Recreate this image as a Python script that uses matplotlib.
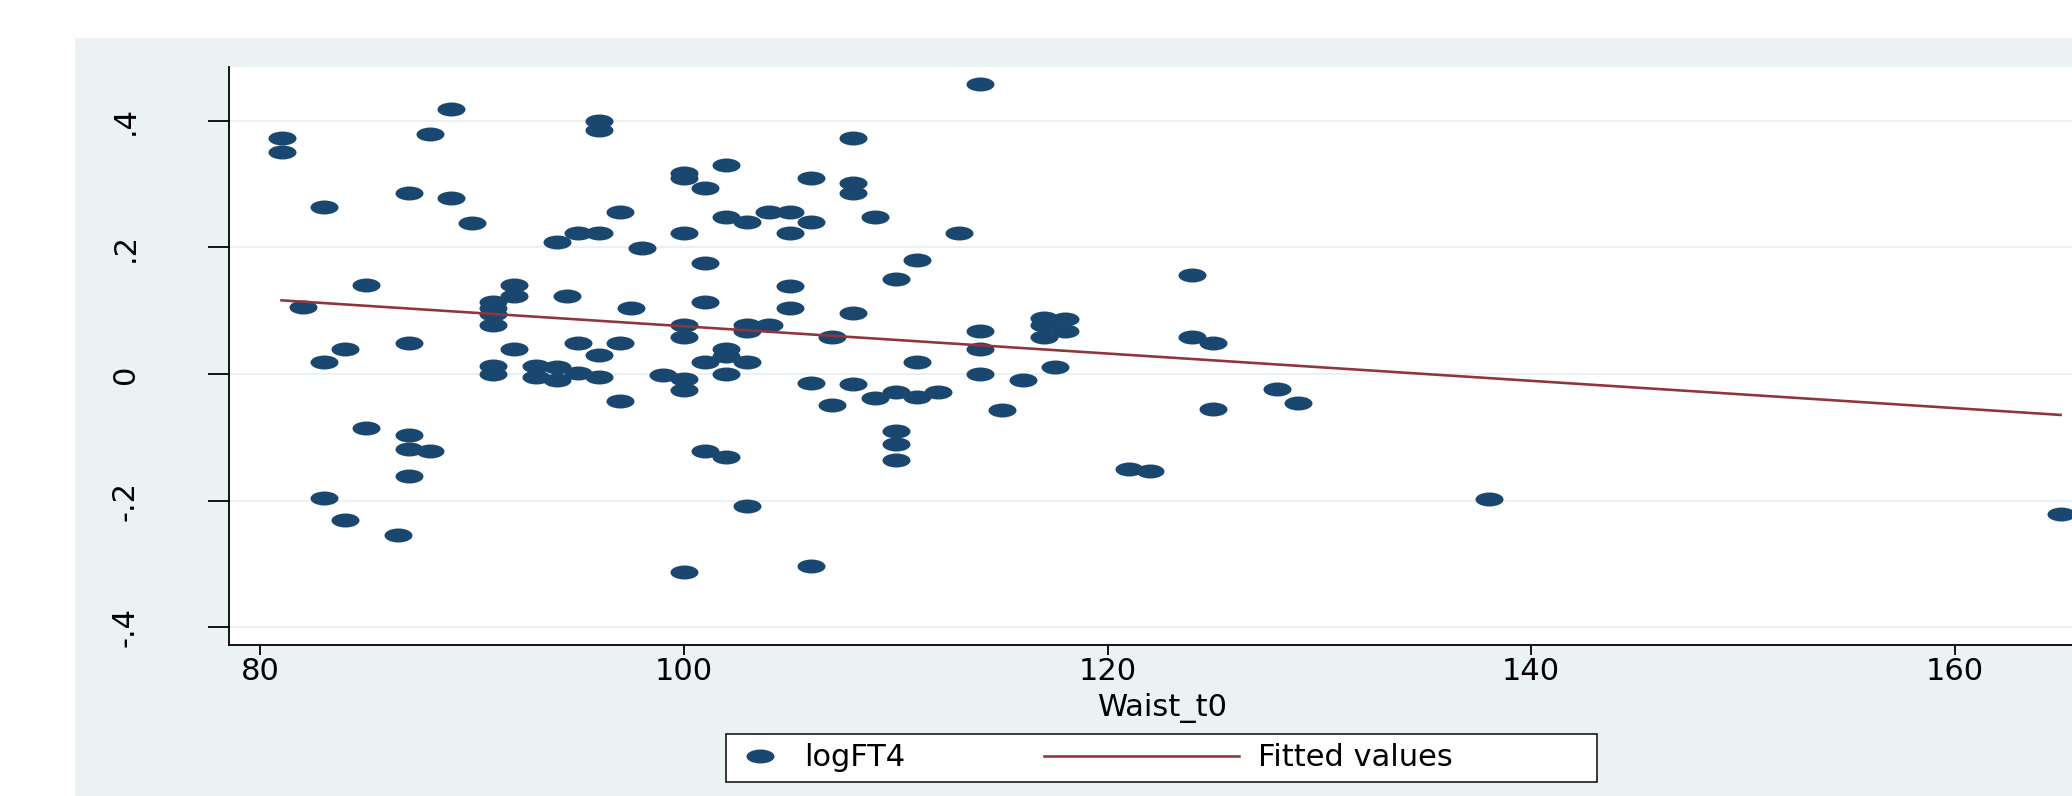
import matplotlib
matplotlib.use("Agg")
import matplotlib.pyplot as plt
from matplotlib.markers import MarkerStyle
from matplotlib.transforms import Affine2D
from matplotlib.patches import Rectangle
from matplotlib.legend_handler import HandlerLine2D

# data (Waist_t0 vs logFT4)
waist = [81, 81, 82, 83, 83, 83, 84, 84, 85, 85, 86.5,
         87, 87, 87, 87, 87, 88, 88, 89, 89, 90,
         91, 91, 91, 91, 91, 91, 92, 92, 92, 93, 93,
         94, 94, 94, 94.5, 95, 95, 95, 96, 96, 96, 96, 96,
         97, 97, 97, 97.5, 98, 99,
         100, 100, 100, 100, 100, 100, 100, 100,
         101, 101, 101, 101, 101, 102, 102, 102, 102, 102, 102,
         103, 103, 103, 103, 103, 104, 104, 105, 105, 105, 105,
         106, 106, 106, 106, 107, 107, 108, 108, 108, 108, 108,
         109, 109, 110, 110, 110, 110, 110, 111, 111, 111, 112, 113,
         114, 114, 114, 114, 115, 116, 117, 117, 117, 117.5, 118, 118,
         121, 122, 124, 124, 125, 125, 128, 129, 138, 165]
logft4 = [0.372, 0.351, 0.106, 0.263, 0.019, -0.195, 0.039, -0.231, 0.140, -0.085, -0.254,
          0.285, 0.049, -0.097, -0.118, -0.161, 0.379, -0.122, 0.419, 0.278, 0.239,
          0.114, 0.104, 0.095, 0.078, 0.012, 0.000, 0.141, 0.123, 0.039, 0.012, -0.004,
          0.208, 0.011, -0.009, 0.123, 0.223, 0.049, 0.001, 0.400, 0.386, 0.223, 0.030, -0.005,
          0.255, 0.049, -0.042, 0.105, 0.199, -0.002,
          0.317, 0.309, 0.223, 0.077, 0.059, -0.008, -0.025, -0.312,
          0.293, 0.176, 0.113, 0.019, -0.122, 0.330, 0.248, 0.039, 0.028, 0.000, -0.131,
          0.240, 0.077, 0.068, 0.019, -0.209, 0.255, 0.077, 0.255, 0.223, 0.139, 0.105,
          0.309, 0.240, -0.014, -0.303, 0.059, -0.049, 0.372, 0.301, 0.286, 0.096, -0.016,
          0.248, -0.038, 0.150, -0.028, -0.090, -0.110, -0.136, 0.180, 0.019, -0.036, -0.028, 0.223,
          0.458, 0.068, 0.039, 0.000, -0.057, -0.009, 0.088, 0.078, 0.059, 0.011, 0.087, 0.068,
          -0.150, -0.153, 0.157, 0.059, 0.049, -0.056, -0.023, -0.045, -0.197, -0.221]

# fitted values (end points of the regression line)
fit_x = [81, 165]
fit_y = [0.1163, -0.0646]

xticks = [80, 100, 120, 140, 160]
yticks = [-0.4, -0.2, 0, 0.2, 0.4]
ytick_labels = ["-.4", "-.2", "0", ".2", ".4"]

navy = "#1A476F"
maroon = "#90353B"
bg = "#EAF2F3"

W, H = 2072, 796
FS = 22


def pt(p):
    # pixels -> points at dpi 100
    return p * 72 / 100


class LongLine(HandlerLine2D):
    # draws the line key longer, reaching left of its handle box
    def __init__(self, length, **kw):
        super().__init__(**kw)
        self.length = length

    def create_artists(self, legend, orig_handle, xdescent, ydescent,
                       width, height, fontsize, trans):
        arts = super().create_artists(legend, orig_handle, xdescent, ydescent,
                                      width, height, fontsize, trans)
        x1 = -xdescent + width
        y0 = (height - ydescent) / 2
        arts[0].set_data([x1 - self.length, x1], [y0, y0])
        return arts


plt.rcParams["font.size"] = FS
plt.rcParams["font.family"] = ["DejaVu Sans"]

fig = plt.figure(figsize=(W / 100, H / 100), dpi=100)
fig.add_artist(Rectangle((75 / W, 0), 1, (H - 38) / H, transform=fig.transFigure,
                         facecolor=bg, edgecolor="none", zorder=-1))

ax = fig.add_axes([229 / W, (H - 644.7) / H, (2097 - 229) / W, (644.7 - 66.7) / H])
ax.set_facecolor("white")

ell = MarkerStyle("o", transform=Affine2D().scale(2.0, 1.0))
pts, = ax.plot(waist, logft4, ls="none", marker=ell, ms=pt(14), mew=0,
               color=navy, label="logFT4", zorder=3)
fit, = ax.plot(fit_x, fit_y, color=maroon, lw=pt(2.6), label="Fitted values", zorder=4)

ax.set_xlim(78.52, 166.72)
ax.set_ylim(-0.4274, 0.4852)
ax.set_xticks(xticks)
ax.set_yticks(yticks, labels=ytick_labels, rotation=90, va="center")

for s in ["top", "right"]:
    ax.spines[s].set_visible(False)
for s in ["left", "bottom"]:
    ax.spines[s].set_linewidth(pt(1.8))
    ax.spines[s].set_color("black")

ax.tick_params(axis="x", length=pt(10), width=pt(1.8), pad=pt(2.5))
ax.tick_params(axis="y", length=pt(21), width=pt(1.8), pad=49)
ax.yaxis.grid(True, color="#E4EEF1", lw=1.1)
ax.set_axisbelow(True)

ax.set_xlabel("Waist_t0")
ax.xaxis.set_label_coords(0.5, -(693 - 644.7) / 578)

em = FS * 100 / 72  # font size in pixels
leg = ax.legend(handles=[pts, fit], handler_map={fit: LongLine(pt(195))},
                loc="center", bbox_to_anchor=(726 / W, (H - 783) / H, 871 / W, 50 / H),
                bbox_transform=fig.transFigure, mode="expand", alignment="left",
                ncol=2, numpoints=1, borderpad=0.317, borderaxespad=0,
                handlelength=48.6 / em, handletextpad=19.7 / em, columnspacing=285 / em,
                fancybox=False, edgecolor="black", facecolor="white", framealpha=1)
leg.get_frame().set_linewidth(pt(1.5))
# keep the frame at full width but do not spread the two entries apart
if hasattr(leg, "_legend_handle_box"):
    leg._legend_handle_box.mode = "fixed"

fig.savefig("out.png", dpi=100)
